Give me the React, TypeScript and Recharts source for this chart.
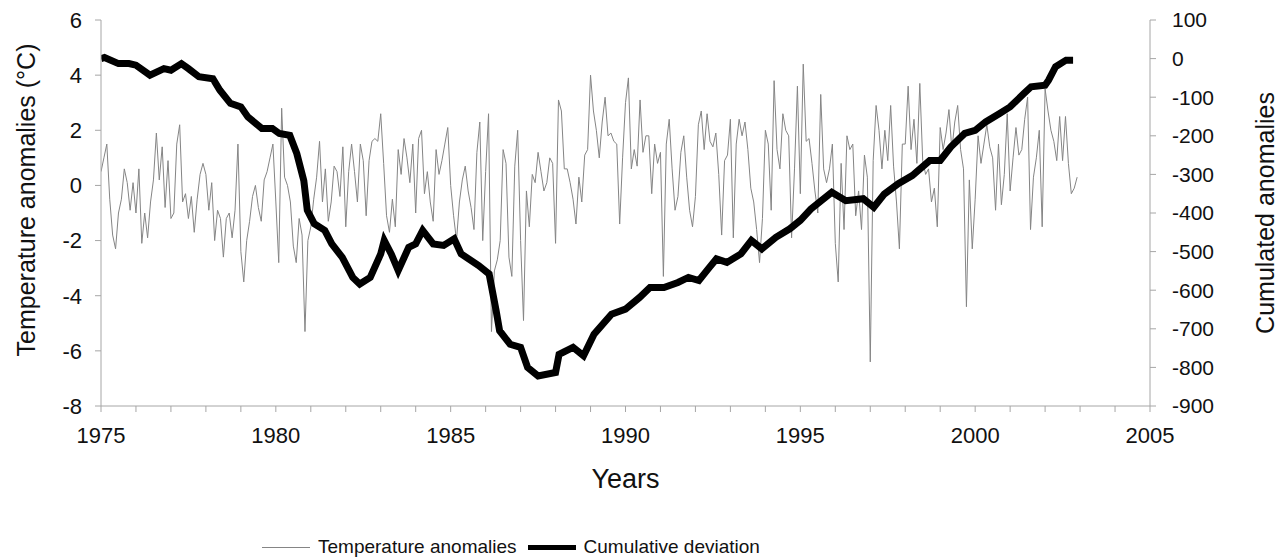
import React from "react";
import { LineChart, Line, XAxis, YAxis, Legend } from "recharts";

const FONT = "'Liberation Sans', Arial, sans-serif";

// monthly temperature anomalies (°C), Jan 1975 .. Dec 2002
const startYear = 1975;
const tempAnomalies = [
  0.5, 1.0, 1.5, -0.5, -1.8, -2.3, -1.0, -0.5, 0.6, 0.1, -0.9, 0.1, // 1975
  -1.0, 0.6, -2.1, -1.0, -1.9, -0.6, 0.2, 1.9, 0.2, 1.4, -0.8, 0.9, // 1976
  -1.2, -1.0, 1.5, 2.2, -0.6, -0.3, -1.2, -0.4, -1.7, -0.5, 0.4, 0.8, // 1977
  0.4, -0.9, 0.1, -2.0, -0.9, -1.2, -2.6, -1.2, -1.0, -1.9, -0.9, 1.5, // 1978
  -2.4, -3.5, -2.0, -1.3, -0.4, 0.0, -0.8, -1.3, 0.2, 0.5, 1.0, 1.5, // 1979
  -0.6, -2.8, 2.8, 0.3, 0.0, -0.6, -2.2, -2.8, -1.2, -1.8, -5.3, -2.0, // 1980
  -1.5, -0.5, 0.3, 1.6, -0.6, 0.6, -1.3, -0.6, 0.7, 0.5, -0.4, 1.4, // 1981
  -1.5, 0.5, 1.5, 0.5, -0.6, 1.5, 0.9, -1.1, 0.9, 1.6, 1.7, 1.6, // 1982
  2.6, 0.8, -1.1, -1.7, -0.5, -1.5, 1.3, 0.4, 1.7, 1.0, 0.1, 1.5, // 1983
  -1.0, 1.7, 2.0, -0.3, 0.5, -0.6, -1.3, 1.3, 0.4, 0.9, 1.5, 2.1, // 1984
  0.0, -1.1, -2.0, -0.6, 0.2, 0.7, -0.2, -0.8, -1.6, 1.2, 2.3, -2.0, // 1985
  0.5, 2.6, -5.3, -3.1, -2.7, -2.0, 1.3, 0.8, -2.6, -3.3, 0.7, 2.0, // 1986
  -2.0, -4.9, -0.2, -1.5, 0.4, 0.1, 1.2, 0.5, -0.2, 0.1, 1.0, 0.8, // 1987
  -2.1, 3.1, 2.7, 0.6, 0.6, 0.1, -0.5, -1.4, 0.3, -0.6, 1.1, 1.3, // 1988
  4.0, 2.7, 2.0, 1.0, 2.3, 3.2, 1.8, 1.9, 1.6, 1.5, -1.4, 1.0, // 1989
  3.0, 3.9, 0.6, 1.3, 0.7, 3.1, 1.2, 1.8, 1.8, -0.3, 1.5, 0.8, // 1990
  1.2, -3.3, 1.5, 2.4, 0.6, -0.9, -0.4, 1.2, 1.8, 0.3, -0.9, -1.5, // 1991
  -0.4, 2.2, 2.7, 1.3, 2.6, 1.6, 1.4, 1.9, 0.4, -1.8, 0.9, 1.1, // 1992
  2.4, -1.9, 1.5, 2.4, 1.8, 2.3, 1.3, -0.1, -0.6, -1.6, -2.8, -1.2, // 1993
  2.0, 1.5, -0.9, 3.8, 1.3, 0.6, 2.6, 2.0, 1.8, -1.9, 0.6, 3.6, // 1994
  -0.3, 4.4, 1.6, 1.7, 0.8, -0.2, -1.0, 3.3, 0.6, 0.1, 0.6, 1.5, // 1995
  -2.1, -3.5, 0.8, -1.6, 1.8, 1.3, 1.5, -1.1, -0.2, -1.6, 1.1, 0.3, // 1996
  -6.4, 0.9, 2.9, 2.0, 0.6, 2.0, 0.9, 2.9, 0.7, -0.6, -2.3, 1.5, // 1997
  1.5, 3.6, 1.3, 2.4, 0.8, 3.7, 0.9, 0.4, 0.6, -0.6, -0.1, -1.5, // 1998
  2.1, 1.3, 1.9, 2.75, 1.3, 2.3, 2.9, 1.3, 0.6, -4.4, 0.2, -2.3, // 1999
  -0.5, 1.8, 0.8, 1.5, 2.2, 1.4, 1.0, -0.9, 1.5, -0.7, 0.4, 2.6, // 2000
  -0.2, 1.0, 2.1, 1.1, 1.3, 2.4, 3.2, -1.6, 0.3, 1.0, 2.0, -1.5, // 2001
  3.5, 2.7, 2.0, 1.6, 0.9, 2.5, 0.9, 2.5, 0.8, -0.3, -0.1, 0.3, // 2002
];

// cumulative deviation, read at irregular dates along the thick curve
const cumYears = [
  1975.0, 1975.1, 1975.5, 1975.8, 1976.0, 1976.4, 1976.8, 1977.0, 1977.3, 1977.5,
  1977.8, 1978.2, 1978.4, 1978.7, 1979.0, 1979.2, 1979.6, 1979.9, 1980.1, 1980.4,
  1980.6, 1980.8, 1980.9, 1981.1, 1981.4, 1981.6, 1981.9, 1982.2, 1982.4, 1982.7,
  1983.0, 1983.1, 1983.3, 1983.5, 1983.8, 1984.0, 1984.2, 1984.5, 1984.8, 1985.1,
  1985.3, 1985.8, 1986.1, 1986.3, 1986.4, 1986.7, 1987.0, 1987.2, 1987.5, 1988.0,
  1988.1, 1988.5, 1988.8, 1989.1, 1989.6, 1990.0, 1990.4, 1990.7, 1991.1, 1991.5,
  1991.8, 1992.1, 1992.4, 1992.6, 1992.9, 1993.3, 1993.6, 1993.9, 1994.3, 1994.7,
  1995.0, 1995.3, 1995.9, 1996.3, 1996.8, 1997.1, 1997.4, 1997.8, 1998.2, 1998.7,
  1999.0, 1999.3, 1999.7, 2000.0, 2000.3, 2000.7, 2001.0, 2001.4, 2001.6, 2002.0,
  2002.1, 2002.3, 2002.6, 2002.8,
];
const cumValues = [
  0, 3, -13, -13, -17, -43, -26, -30, -13, -26,
  -47, -52, -82, -116, -125, -151, -181, -181, -194, -199,
  -246, -316, -393, -428, -445, -480, -515, -567, -584, -567,
  -506, -471, -506, -549, -489, -480, -445, -480, -484, -467,
  -506, -536, -558, -653, -705, -740, -748, -800, -822, -813,
  -766, -748, -770, -714, -662, -649, -619, -593, -593, -580,
  -567, -575, -541, -519, -528, -506, -471, -493, -463, -441,
  -419, -390, -346, -368, -363, -385, -351, -324, -303, -264,
  -264, -229, -194, -186, -164, -142, -125, -90, -73, -69,
  -56, -21, -4, -4,
];

const xTicks = [
  1975, 1976, 1977, 1978, 1979, 1980, 1981, 1982, 1983, 1984, 1985, 1986, 1987, 1988, 1989,
  1990, 1991, 1992, 1993, 1994, 1995, 1996, 1997, 1998, 1999, 2000, 2001, 2002, 2003, 2004, 2005,
];
const xLabelYears = [1975, 1980, 1985, 1990, 1995, 2000, 2005];
const leftTicks = [-8, -6, -4, -2, 0, 2, 4, 6];
const rightTicks = [-900, -800, -700, -600, -500, -400, -300, -200, -100, 0, 100];

const seriesNames = ["Temperature anomalies", "Cumulative deviation"];

const tempData = tempAnomalies.map((v, i) => ({ t: startYear + i / 12, temp: v }));
const cumData = cumYears.map((t, i) => ({ t, cum: cumValues[i] }));

const swatchHeight: Record<string, number> = {
  "Temperature anomalies": 1,
  "Cumulative deviation": 5,
};

const LegendContent = (props: any) => {
  const payload = [...(props.payload || [])].sort(
    (a: any, b: any) => seriesNames.indexOf(a.value) - seriesNames.indexOf(b.value)
  );
  return (
    <div
      style={{
        height: 40,
        boxSizing: "border-box",
        paddingTop: 14,
        paddingLeft: 262,
        display: "flex",
        alignItems: "center",
        fontFamily: FONT,
        fontSize: 19,
        color: "#111",
      }}
    >
      {payload.map((entry: any, i: number) => (
        <div key={i} style={{ display: "flex", alignItems: "center", marginRight: 11 }}>
          <span
            style={{
              display: "inline-block",
              width: 48,
              height: swatchHeight[entry.value] || 2,
              background: entry.color,
              marginRight: 8,
            }}
          />
          <span>{entry.value}</span>
        </div>
      ))}
    </div>
  );
};

export default function App() {
  const axisColor = "#a6a6a6";
  const tickStyle = { fill: "#111", fontSize: 22, fontFamily: FONT };
  return (
    <div style={{ position: "absolute", left: 0, top: 0, background: "#fff" }}>
      <LineChart width={1284} height={560} margin={{ top: 20, right: 4, bottom: 0, left: 16 }}>
        <XAxis
          type="number"
          dataKey="t"
          domain={[1975, 2005]}
          ticks={xTicks}
          interval={0}
          allowDataOverflow
          tickFormatter={(v: number) => (xLabelYears.includes(v) ? String(v) : "")}
          height={114}
          stroke={axisColor}
          tickSize={6}
          tickMargin={15}
          tick={tickStyle}
          label={{
            value: "Years",
            position: "insideTop",
            offset: 63,
            fill: "#111",
            fontSize: 27,
            fontFamily: FONT,
          }}
        />
        <YAxis
          yAxisId="left"
          domain={[-8, 6]}
          ticks={leftTicks}
          interval={0}
          allowDataOverflow
          width={85}
          stroke={axisColor}
          tickSize={6}
          tickMargin={13}
          tick={tickStyle}
          label={{
            value: "Temperature anomalies (°C)",
            angle: -90,
            position: "insideLeft",
            offset: 10,
            dy: -13,
            style: { textAnchor: "middle" },
            fill: "#111",
            fontSize: 25,
            fontFamily: FONT,
          }}
        />
        <YAxis
          yAxisId="right"
          orientation="right"
          domain={[-900, 100]}
          ticks={rightTicks}
          interval={0}
          allowDataOverflow
          width={130}
          stroke={axisColor}
          tickSize={6}
          tickMargin={16}
          tick={{ ...tickStyle, fontSize: 21 }}
          label={{
            value: "Cumulated anomalies",
            angle: -90,
            position: "insideRight",
            offset: 15,
            style: { textAnchor: "middle" },
            fill: "#111",
            fontSize: 25,
            fontFamily: FONT,
          }}
        />
        <Legend
          verticalAlign="bottom"
          height={40}
          wrapperStyle={{ left: 0, width: 1284 }}
          content={<LegendContent />}
        />
        <Line
          yAxisId="left"
          data={tempData}
          dataKey="temp"
          name="Temperature anomalies"
          stroke="#858585"
          strokeWidth={1}
          dot={false}
          isAnimationActive={false}
        />
        <Line
          yAxisId="right"
          data={cumData}
          dataKey="cum"
          name="Cumulative deviation"
          stroke="#000"
          strokeWidth={7}
          dot={false}
          isAnimationActive={false}
        />
      </LineChart>
    </div>
  );
}
